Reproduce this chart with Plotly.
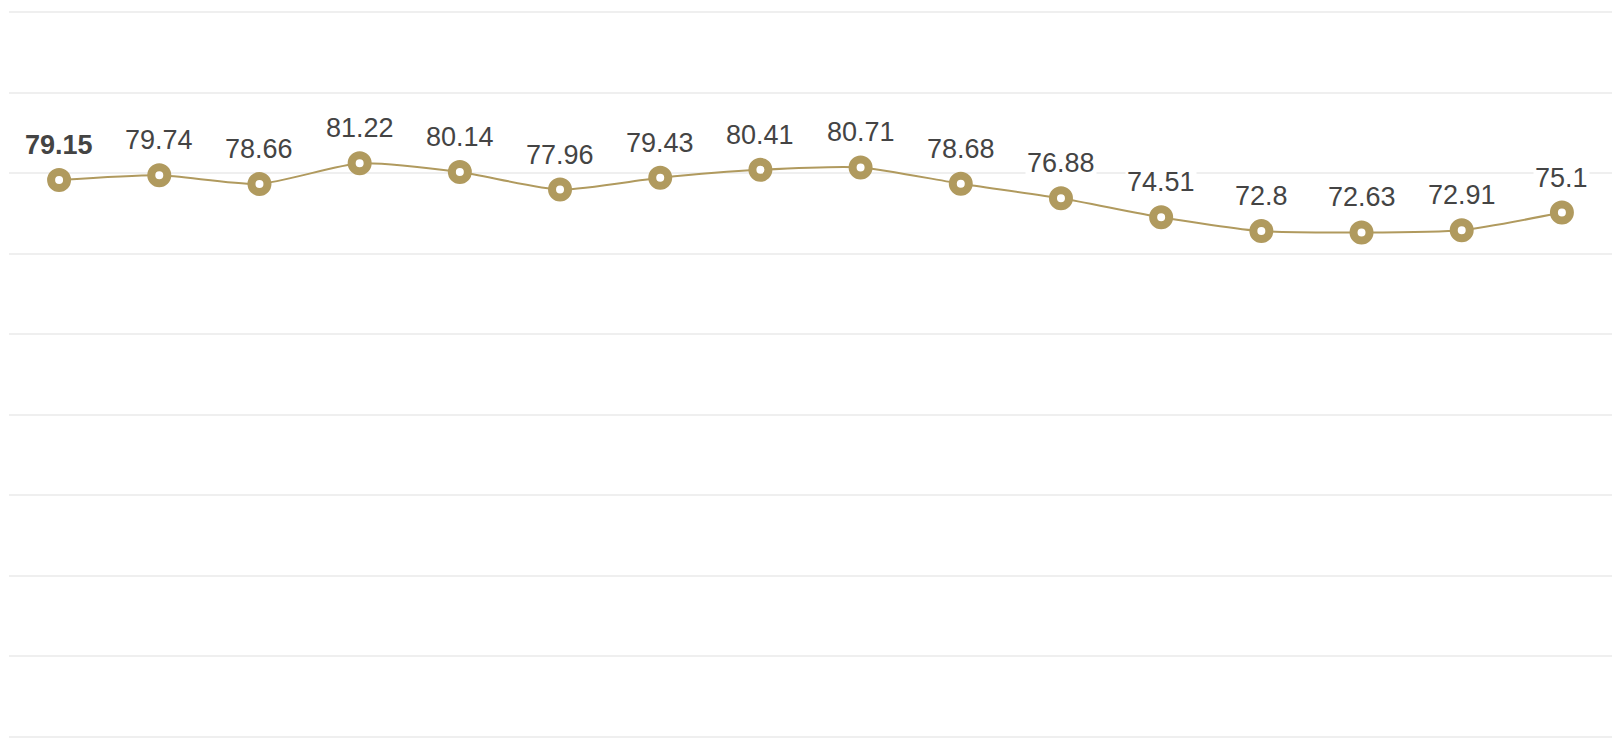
import plotly.graph_objects as go

categories = [f"P{i}" for i in range(1, 17)]
values = [79.15, 79.74, 78.66, 81.22, 80.14, 77.96, 79.43, 80.41, 80.71,
          78.68, 76.88, 74.51, 72.8, 72.63, 72.91, 75.1]
y_ticks = [10, 20, 30, 40, 50, 60, 70, 80, 90, 100]

GOLD = "#b09a5e"
TEXT = "#444444"

fig = go.Figure()
fig.add_trace(go.Scatter(
    x=categories, y=values, mode="lines+markers",
    line=dict(color=GOLD, width=2, shape="spline", smoothing=0.6),
    marker=dict(symbol="circle", size=16, color="white",
                line=dict(color=GOLD, width=8)),
    hoverinfo="skip",
))

for i, (c, v) in enumerate(zip(categories, values)):
    txt = f"<b>{v:g}</b>" if i == 0 else f"{v:g}"
    fig.add_annotation(
        x=c, y=v, text=txt, showarrow=False,
        yanchor="middle", yshift=35,
        font=dict(family="Liberation Sans, Arial, sans-serif", size=27, color=TEXT),
        bgcolor="white", borderpad=1,
    )

fig.update_layout(
    width=1614, height=742,
    margin=dict(l=9, r=2, t=8, b=1),
    paper_bgcolor="white", plot_bgcolor="white",
    showlegend=False,
    xaxis=dict(type="category", range=[-0.5, 15.5], showticklabels=False,
               showgrid=False, zeroline=False, showline=False, ticks=""),
    yaxis=dict(range=[9.5, 100.5], tickvals=y_ticks, showticklabels=False,
               showgrid=True, gridcolor="#efefef", gridwidth=2,
               zeroline=False, showline=False, ticks=""),
)

fig.write_html("out.html")
